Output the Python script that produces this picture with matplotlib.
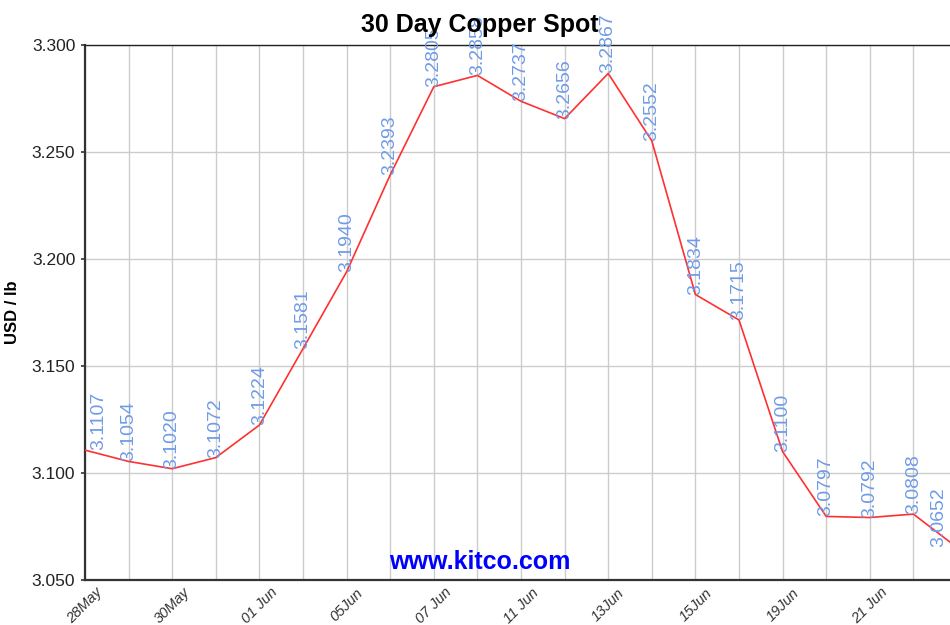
import matplotlib
matplotlib.use("Agg")
import matplotlib.pyplot as plt
import matplotlib.transforms as mtransforms

# 30 day copper spot, USD / lb (trading days)
dates = ["28May", "29May", "30May", "31May", "01 Jun", "04Jun", "05Jun", "06Jun",
         "07 Jun", "08Jun", "11 Jun", "12Jun", "13Jun", "14Jun", "15Jun", "18Jun",
         "19Jun", "20Jun", "21 Jun", "22Jun", "25Jun"]
prices = [3.1107, 3.1054, 3.1020, 3.1072, 3.1224, 3.1581, 3.1940, 3.2393,
          3.2805, 3.2858, 3.2737, 3.2656, 3.2867, 3.2552, 3.1834, 3.1715,
          3.1100, 3.0797, 3.0792, 3.0808, 3.0652]
y_ticks = [3.050, 3.100, 3.150, 3.200, 3.250, 3.300]

plt.rcParams['font.family'] = ['Liberation Sans', 'DejaVu Sans']

fig = plt.figure(figsize=(9.5, 6.25), dpi=100)
ax = fig.add_axes([85 / 950, 45 / 625, 872 / 950, 535 / 625])

x = list(range(len(prices)))
ax.plot(x, prices, color='#ff3030', lw=1.2, zorder=3)

ax.set_xlim(0, len(prices) - 1)
ax.set_ylim(y_ticks[0], y_ticks[-1])

# labels every other trading day, the last day is cut off in the original
ax.set_xticks(x[:19:2])
ax.set_xticklabels(dates[:19:2], rotation=45, ha='center', fontsize=10.5,
                   style='italic', color='#333333')
ax.set_xticks([i for i in x if i not in x[:19:2]], minor=True)
ax.tick_params(axis='x', which='both', length=0, pad=4)

ax.set_yticks(y_ticks)
ax.set_yticklabels(["%.3f" % v for v in y_ticks], fontsize=12.5, color='#222222')
ax.tick_params(axis='y', length=3, width=1.2, color='#333333', pad=4)

ax.grid(True, which='both', color='#cccccc', lw=1)
ax.set_axisbelow(True)

for side in ['left', 'bottom']:
    ax.spines[side].set_color('#333333')
    ax.spines[side].set_linewidth(1.6)
ax.spines['top'].set_color('#222222')
ax.spines['top'].set_linewidth(1.0)

# value labels
for i, (xi, p) in enumerate(zip(x, prices)):
    ha = 'center'
    dx = 0
    if i == 0:
        ha, dx = 'left', 4 / 72
    elif i == len(prices) - 1:
        ha, dx = 'right', -7 / 72
    off = mtransforms.offset_copy(ax.transData, fig=fig, x=dx, y=0, units='inches')
    ax.text(xi, p, "%.4f" % p, rotation=90, ha=ha, va='bottom', fontsize=14,
            color='#6f9be8', transform=off, clip_on=False, zorder=4)

ax.set_ylabel("USD / lb", fontsize=12, fontweight='bold')
ax.yaxis.set_label_coords(-65 / 872, 0.5)

fig.text(480 / 950, 1 - 25 / 625, "30 Day Copper Spot", ha='center', va='center',
         fontsize=18, fontweight='bold', color='black', zorder=10)
fig.text(480 / 950, 1 - 562 / 625, "www.kitco.com", ha='center', va='center',
         fontsize=18, fontweight='bold', color='#0000ff', zorder=10)

fig.savefig("out.png", dpi=100)
